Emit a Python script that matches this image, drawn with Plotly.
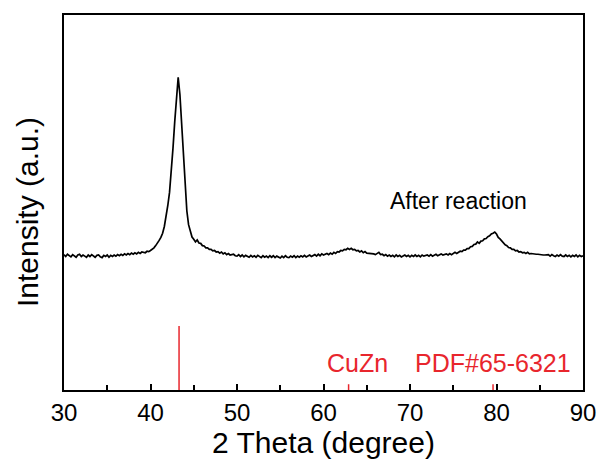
import plotly.graph_objects as go

# XRD scan: 2θ from 30° to 90°, 0.2° step
scan_start = 30.0
scan_step = 0.2
intensity = [
    361, 356, 362, 358, 355, 361, 357, 354, 360, 362,
    356, 360, 357, 354, 360, 356, 361, 357, 354, 359,
    360, 355, 353, 359, 356, 360, 354, 359, 356, 360,
    357, 361, 358, 362, 359, 363, 360, 364, 361, 365,
    362, 366, 363, 367, 364, 368, 367, 366, 370, 369,
    372, 375, 379, 385, 391, 399, 407, 418, 436, 460,
    492, 527, 580, 645, 715, 785, 834, 788, 712, 630,
    540, 478, 441, 420, 408, 402, 395, 400, 392, 391,
    385, 384, 379, 379, 375, 375, 371, 372, 368, 369,
    365, 368, 363, 366, 361, 364, 360, 361, 362, 358,
    357, 361, 356, 360, 355, 359, 356, 354, 359, 355,
    358, 354, 359, 355, 353, 358, 354, 357, 353, 358,
    354, 358, 353, 357, 354, 352, 357, 353, 358, 354,
    353, 357, 354, 358, 353, 357, 354, 358, 355, 359,
    355, 358, 360, 356, 359, 361, 357, 362, 358, 363,
    360, 361, 364, 361, 365, 362, 367, 364, 369, 368,
    372, 371, 375, 374, 378, 375, 378, 374, 375, 371,
    372, 368, 371, 366, 369, 365, 365, 364, 364, 363,
    361, 364, 367, 361, 362, 358, 361, 357, 360, 356,
    359, 355, 360, 356, 359, 355, 358, 360, 356, 359,
    355, 359, 356, 360, 356, 359, 355, 360, 357, 358,
    360, 357, 361, 357, 360, 362, 358, 361, 363, 360,
    361, 363, 360, 364, 361, 365, 367, 364, 368, 370,
    369, 373, 373, 377, 377, 382, 383, 388, 389, 395,
    391, 397, 398, 403, 404, 409, 411, 416, 418, 421,
    416, 407, 403, 397, 394, 387, 385, 380, 379, 375,
    375, 371, 372, 368, 369, 366, 367, 364, 367, 363,
    364, 363, 363, 362, 362, 361, 361, 360, 360, 360,
    361, 357, 361, 358, 356, 360, 357, 361, 357, 356,
    360, 356, 359, 355, 359, 356, 360, 355, 359, 356,
    358,
]
two_theta = [round(scan_start + i * scan_step, 1) for i in range(len(intensity))]

# Reference pattern CuZn PDF#65-6321
ref_positions = [43.3, 62.9, 79.6]
ref_rel_intensity = [100, 9, 9]
ref_scale = 1.71  # a.u. per % on the display axis

x_ticks = [30, 40, 50, 60, 70, 80, 90]

RED = "#e8262d"
FONT = "Liberation Sans, Arial, sans-serif"

ref_x, ref_y = [], []
for p, r in zip(ref_positions, ref_rel_intensity):
    ref_x += [p, p, None]
    ref_y += [0, r * ref_scale, None]

fig = go.Figure()
fig.add_trace(go.Scatter(x=two_theta, y=intensity, mode="lines",
                         line=dict(color="black", width=1.7),
                         showlegend=False, hoverinfo="skip"))
fig.add_trace(go.Scatter(x=ref_x, y=ref_y, mode="lines",
                         line=dict(color=RED, width=1.5),
                         showlegend=False, hoverinfo="skip"))

fig.add_annotation(x=75.6, y=504, xref="x", yref="y", text="After reaction",
                   showarrow=False, font=dict(family=FONT, size=23, color="black"),
                   xanchor="center", yanchor="middle")
fig.add_annotation(x=63.95, y=72, xref="x", yref="y", text="CuZn",
                   showarrow=False, font=dict(family=FONT, size=25, color=RED),
                   xanchor="center", yanchor="middle")
fig.add_annotation(x=79.63, y=72, xref="x", yref="y", text="PDF#65-6321",
                   showarrow=False, font=dict(family=FONT, size=25, color=RED),
                   xanchor="center", yanchor="middle")
# y-axis title
fig.add_annotation(x=-0.069, y=0.475, xref="paper", yref="paper", text="Intensity (a.u.)",
                   textangle=-90, showarrow=False,
                   font=dict(family=FONT, size=30, color="black"),
                   xanchor="center", yanchor="middle")

fig.update_layout(
    width=600, height=467,
    margin=dict(l=64, r=17, t=15, b=77, autoexpand=False),
    paper_bgcolor="white", plot_bgcolor="white",
    font=dict(family=FONT, color="black"),
)
fig.update_xaxes(
    range=[30, 90], tickvals=x_ticks, ticktext=[str(t) for t in x_ticks],
    ticks="inside", ticklen=6, tickwidth=1.5, tickcolor="black",
    minor=dict(ticks="inside", ticklen=5, tickwidth=1.5, tickcolor="black", dtick=5, tick0=30),
    showline=True, linecolor="black", linewidth=2, mirror=True,
    showgrid=False, zeroline=False, automargin=False,
    tickfont=dict(family=FONT, size=24, color="black"),
    title=dict(text="2 Theta (degree)", font=dict(family=FONT, size=30, color="black"), standoff=4),
)
fig.update_yaxes(
    range=[0, 1000], showticklabels=False, ticks="",
    showline=True, linecolor="black", linewidth=2, mirror=True,
    showgrid=False, zeroline=False, automargin=False,
)

fig.write_html("out.html")
